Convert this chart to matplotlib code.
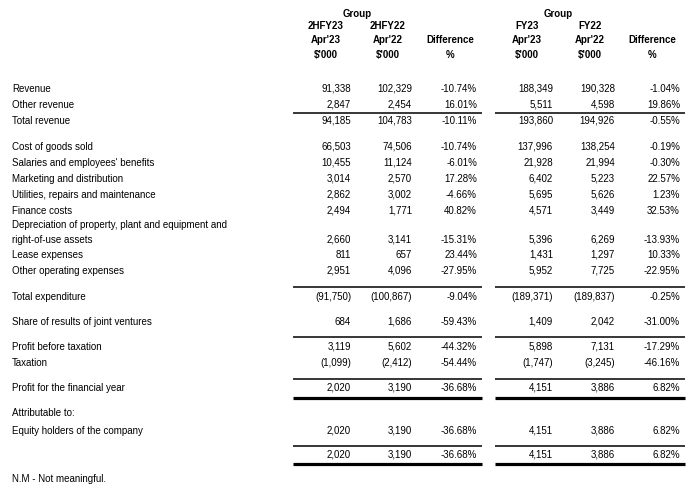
import matplotlib
matplotlib.use("Agg")
import matplotlib.pyplot as plt

plt.rcParams['font.family'] = ['Liberation Sans', 'DejaVu Sans']

# row labels (None = label only / blank)
labels = ["Revenue", "Other revenue", "Total revenue",
          "Cost of goods sold", "Salaries and employees' benefits",
          "Marketing and distribution", "Utilities, repairs and maintenance",
          "Finance costs",
          "Depreciation of property, plant and equipment and\nright-of-use assets",
          "Lease expenses", "Other operating expenses",
          "Total expenditure", "Share of results of joint ventures",
          "Profit before taxation", "Taxation",
          "Profit for the financial year", "Attributable to:",
          "Equity holders of the company", ""]

h2_23 = ["91,338", "2,847", "94,185", "66,503", "10,455", "3,014", "2,862", "2,494",
         "2,660", "811", "2,951", "(91,750)", "684", "3,119", "(1,099)", "2,020", "",
         "2,020", "2,020"]
h2_22 = ["102,329", "2,454", "104,783", "74,506", "11,124", "2,570", "3,002", "1,771",
         "3,141", "657", "4,096", "(100,867)", "1,686", "5,602", "(2,412)", "3,190", "",
         "3,190", "3,190"]
h2_diff = ["-10.74%", "16.01%", "-10.11%", "-10.74%", "-6.01%", "17.28%", "-4.66%", "40.82%",
           "-15.31%", "23.44%", "-27.95%", "-9.04%", "-59.43%", "-44.32%", "-54.44%", "-36.68%", "",
           "-36.68%", "-36.68%"]
fy23 = ["188,349", "5,511", "193,860", "137,996", "21,928", "6,402", "5,695", "4,571",
        "5,396", "1,431", "5,952", "(189,371)", "1,409", "5,898", "(1,747)", "4,151", "",
        "4,151", "4,151"]
fy22 = ["190,328", "4,598", "194,926", "138,254", "21,994", "5,223", "5,626", "3,449",
        "6,269", "1,297", "7,725", "(189,837)", "2,042", "7,131", "(3,245)", "3,886", "",
        "3,886", "3,886"]
fy_diff = ["-1.04%", "19.86%", "-0.55%", "-0.19%", "-0.30%", "22.57%", "1.23%", "32.53%",
           "-13.93%", "10.33%", "-22.95%", "-0.25%", "-31.00%", "-17.29%", "-46.16%", "6.82%", "",
           "6.82%", "6.82%"]

head1 = [["2HFY23", "Apr'23", "$'000"], ["2HFY22", "Apr'22", "$'000"], ["", "Difference", "%"]]
head2 = [["FY23", "Apr'23", "$'000"], ["FY22", "Apr'22", "$'000"], ["", "Difference", "%"]]
footnote = "N.M - Not meaningful."

# layout (pixels, text centre line)
row_y = [88, 104, 120, 146, 162, 178, 194, 210, 239, 254, 270, 296, 321, 346, 362, 387, 412, 430, 454]
col_right = [351, 412, 477, 553, 615, 680]
col_center = [326, 388, 450, 527, 590, 652]
head_y = [25, 39, 54]
grp_spans = [(293, 482), (495, 685)]
thin_lines = [112.5, 287, 337, 379, 446]
thick_lines = [397.5, 464]

fig = plt.figure(figsize=(7, 4.91), dpi=100)
ax = fig.add_axes([0, 0, 1, 1])
ax.set_xlim(0, 700)
ax.set_ylim(491, 0)
ax.axis("off")

fs = 7.0
off = 3.6  # centre -> baseline


def txt(x, y, s, ha="left", bold=False):
    ax.text(x, y + off, s, fontsize=fs, va="baseline", ha=ha,
            fontweight="bold" if bold else "normal")


for lab, y in zip(labels, row_y):
    if "\n" in lab:
        l1, l2 = lab.split("\n")
        txt(12, y - 15, l1)
        txt(12, y, l2)
    else:
        txt(12, y, lab)

cols = [h2_23, h2_22, h2_diff, fy23, fy22, fy_diff]
for xr, col in zip(col_right, cols):
    for v, y in zip(col, row_y):
        txt(xr, y, v, ha="right")

for heads, centers in [(head1, col_center[:3]), (head2, col_center[3:])]:
    txt((centers[0] + centers[1]) / 2, 13, "Group", ha="center", bold=True)
    for h, xc in zip(heads, centers):
        for t, y in zip(h, head_y):
            txt(xc, y, t, ha="center", bold=True)

for x0, x1 in grp_spans:
    for y in thin_lines:
        ax.plot([x0, x1], [y, y], color="black", lw=1.1, solid_capstyle="butt")
    for y in thick_lines:
        ax.plot([x0, x1], [y, y], color="black", lw=2.3, solid_capstyle="butt")

txt(12, 478, footnote)

fig.savefig("out.png", dpi=100)
